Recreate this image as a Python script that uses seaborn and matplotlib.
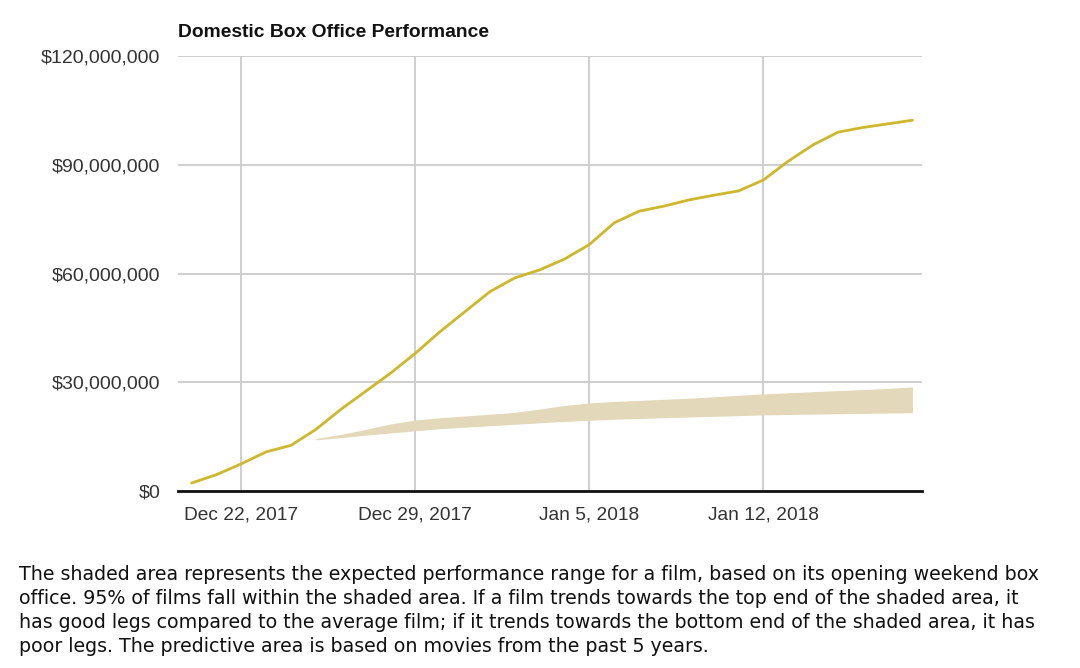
import pandas as pd
import numpy as np
import matplotlib
matplotlib.use("Agg")
import matplotlib.pyplot as plt
import matplotlib.dates as mdates
from matplotlib.ticker import FuncFormatter
import seaborn as sns

# daily cumulative gross, Dec 20 2017 .. Jan 18 2018 (millions $)
dates = pd.date_range("2017-12-20", "2018-01-18", freq="D")
gross = [2.2, 4.5, 7.5, 10.8, 12.6, 17.0, 22.5, 27.5, 32.5, 38.0,
         44.0, 49.5, 55.0, 58.8, 61.0, 64.0, 68.0, 74.0, 77.2, 78.6,
         80.3, 81.6, 82.8, 85.8, 91.0, 95.5, 99.0, 100.3, 101.3, 102.3]

# expected range (shaded), Dec 25 2017 .. Jan 18 2018 (millions $)
band_dates = pd.date_range("2017-12-25", "2018-01-18", freq="D")
band_low = [14.1, 14.7, 15.4, 16.0, 16.6, 17.2, 17.6, 18.0, 18.4, 18.8,
            19.2, 19.5, 19.8, 20.0, 20.2, 20.4, 20.6, 20.8, 21.0, 21.1,
            21.2, 21.3, 21.4, 21.5, 21.6]
band_high = [14.5, 15.6, 17.0, 18.5, 19.6, 20.2, 20.7, 21.2, 21.7, 22.6,
             23.6, 24.3, 24.7, 25.0, 25.3, 25.6, 26.0, 26.4, 26.8, 27.1,
             27.4, 27.7, 28.0, 28.3, 28.7]

y_ticks = [0, 30e6, 60e6, 90e6, 120e6]
x_ticks = pd.to_datetime(["2017-12-22", "2017-12-29", "2018-01-05", "2018-01-12"])

title = "Domestic Box Office Performance"
caption = [
    "The shaded area represents the expected performance range for a film, based on its opening weekend box",
    "office. 95% of films fall within the shaded area. If a film trends towards the top end of the shaded area, it",
    "has good legs compared to the average film; if it trends towards the bottom end of the shaded area, it has",
    "poor legs. The predictive area is based on movies from the past 5 years.",
]

df = pd.DataFrame({"date": dates, "gross": np.array(gross) * 1e6})

sns.set_style("white")
plt.rcParams["font.family"] = ["Liberation Sans", "DejaVu Sans"]

fig = plt.figure(figsize=(10.8, 6.68), dpi=100)
ax = fig.add_axes([0.165, 0.265, 0.689, 0.651])

ax.fill_between(band_dates, np.array(band_low) * 1e6, np.array(band_high) * 1e6,
                color="#e3d9ba", linewidth=0, zorder=2)
sns.lineplot(data=df, x="date", y="gross", ax=ax, color="#cdb72c", linewidth=2.0, zorder=3)

ax.set_ylim(0, 120e6)
ax.set_xlim(pd.Timestamp("2017-12-19 11:00"), pd.Timestamp("2018-01-18 09:30"))
ax.set_yticks(y_ticks)
ax.yaxis.set_major_formatter(FuncFormatter(lambda v, p: "${:,.0f}".format(v)))
ax.set_xticks(x_ticks)
ax.xaxis.set_major_formatter(FuncFormatter(
    lambda v, p: mdates.num2date(v).strftime("%b ") + str(mdates.num2date(v).day) + mdates.num2date(v).strftime(", %Y")))

ax.grid(True, color="#cccccc", linewidth=1.3)
ax.set_axisbelow(True)
for s in ["top", "right", "left"]:
    ax.spines[s].set_visible(False)
ax.spines["bottom"].set_color("#111111")
ax.spines["bottom"].set_linewidth(2)
ax.spines["bottom"].set_zorder(4)
ax.tick_params(axis="y", length=0, pad=13, labelsize=14, labelcolor="#333333")
ax.tick_params(axis="x", length=0, pad=11, labelsize=13.8, labelcolor="#333333")
ax.set_xlabel("")
ax.set_ylabel("")

fig.text(0.165, 0.951, title, fontsize=13.9, fontweight="bold", color="#111111",
         ha="left", va="center")

for i, line in enumerate(caption):
    fig.text(0.018, 1 - (574 + 24 * i) / 668, line, fontsize=13.7, color="#111111",
             family="DejaVu Sans", ha="left", va="center")

fig.savefig("out.png", dpi=100)
